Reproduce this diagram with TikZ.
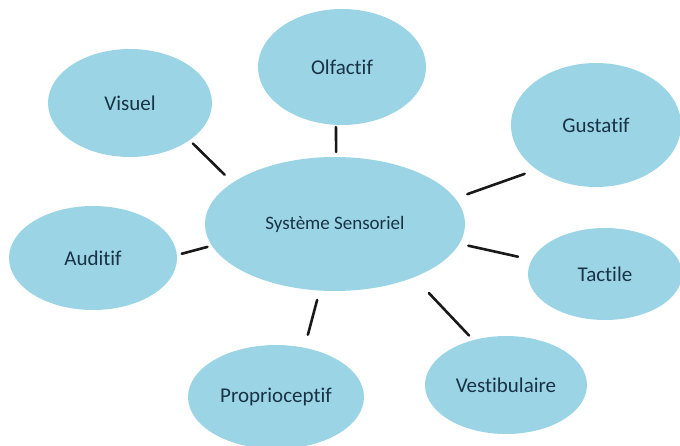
\documentclass[tikz,border=0pt]{standalone}
\usepackage{fontspec}
\setmainfont{Carlito}[Ligatures=NoCommon]
\usetikzlibrary{shapes.geometric}
\definecolor{senseFill}{RGB}{155,213,229}
\definecolor{senseText}{RGB}{24,50,70}
\begin{document}
\begin{tikzpicture}[x=1pt, y=-1pt,
  sense/.style={ellipse, fill=senseFill, inner sep=0pt, outer sep=0pt,
    text=senseText, font=\fontsize{21}{25}\selectfont},
  link/.style={draw=black!90, line width=2.6pt, line cap=round}]
% Page frame (one unit = one pixel, y downwards)
\useasboundingbox (0,0) rectangle (680,446);
% Hub
\node[sense, minimum width=260pt, minimum height=134pt,
  font=\fontsize{19}{23}\selectfont] (sys) at (335,224) {Système Sensoriel};
% Senses round the hub
\node[sense, minimum width=168pt, minimum height=116pt] (olf) at (342,67) {Olfactif};
\node[sense, minimum width=164pt, minimum height=108pt] (vis) at (130,103) {Visuel};
\node[sense, minimum width=170pt, minimum height=124pt] (gus) at (596,125) {Gustatif};
\node[sense, minimum width=168pt, minimum height=104pt] (aud) at (93,258) {Auditif};
\node[sense, minimum width=154pt, minimum height=92pt] (tac) at (605,274) {Tactile};
\node[sense, minimum width=176pt, minimum height=104pt] (pro) at (276,397) {Proprioceptif};
\node[sense, minimum width=162pt, minimum height=98pt] (ves) at (506,385) {Vestibulaire};
% Short links, free of both borders
\draw[link, shorten <=4.7pt, shorten >=11.2pt] (vis.328) -- (sys.158);
\draw[link, shorten <=2.2pt, shorten >=5pt] (olf.264) -- (sys.89);
\draw[link, shorten <=13pt, shorten >=12.9pt] (gus.217) -- (sys.12);
\draw[link, shorten <=5pt, shorten >=4.7pt] (aud.2) -- (sys.190);
\draw[link, shorten <=14.1pt, shorten >=9.3pt] (tac.169) -- (sys.351);
\draw[link, shorten <=13.5pt, shorten >=9.8pt] (pro.60) -- (sys.257);
\draw[link, shorten <=6.3pt, shorten >=21.9pt] (ves.126) -- (sys.326);
\end{tikzpicture}
\end{document}
